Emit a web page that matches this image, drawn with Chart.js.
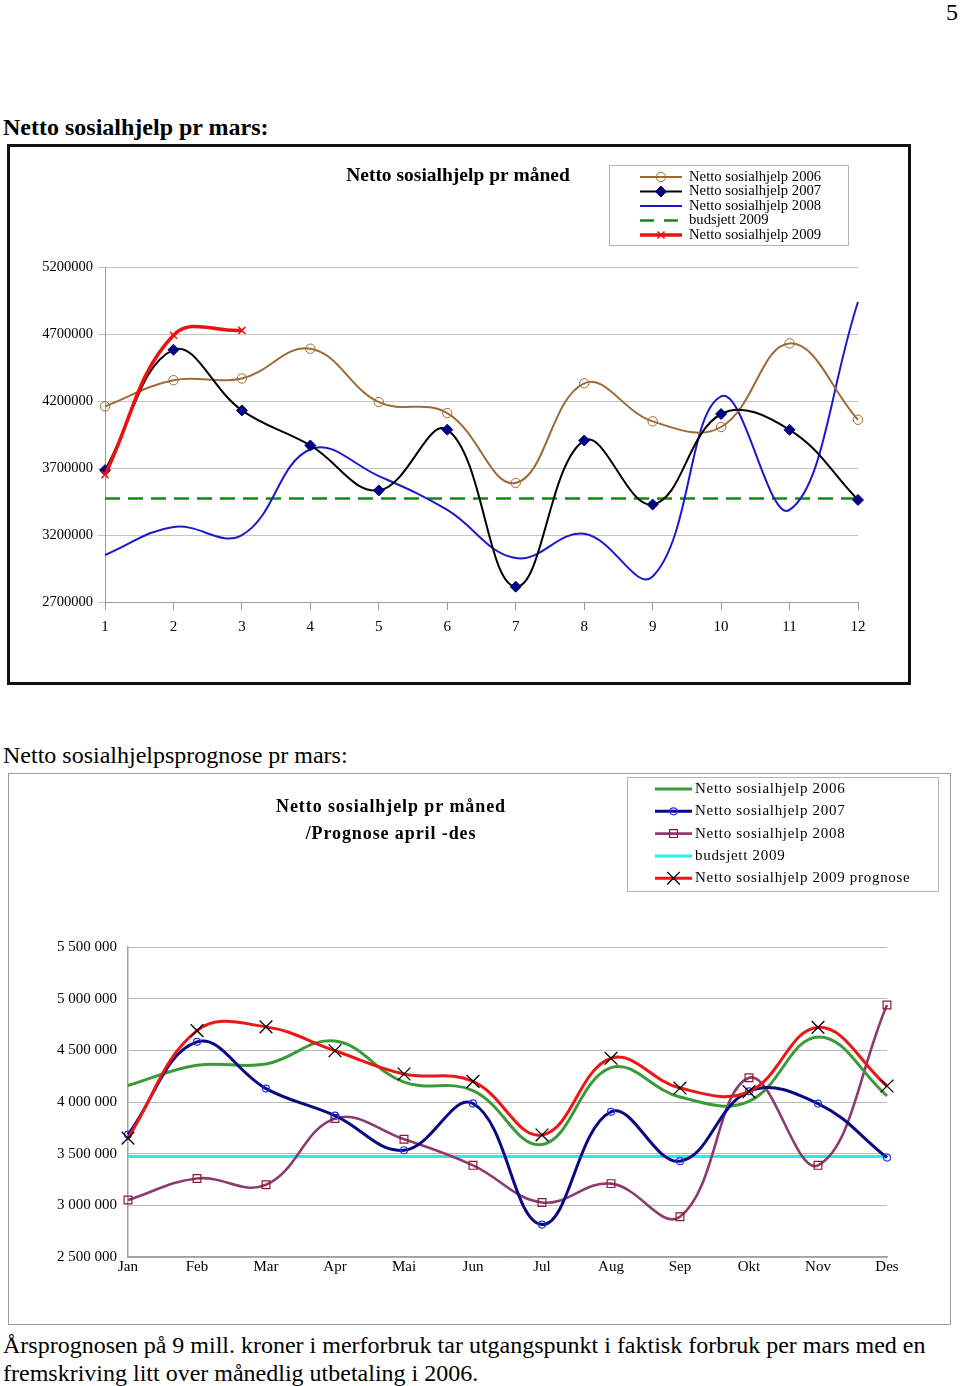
<!DOCTYPE html>
<html lang="no">
<head>
<meta charset="utf-8">
<title>Netto sosialhjelp pr mars</title>
<script src="https://cdn.jsdelivr.net/npm/chart.js@4.4.1/dist/chart.umd.min.js"></script>
<style>
  html, body { margin: 0; padding: 0; background: #fff; }
  body {
    width: 960px; height: 1386px; position: relative; overflow: hidden;
    font-family: "Liberation Serif", "Times New Roman", serif; color: #000;
  }
  .txt { position: absolute; white-space: nowrap; font-size: 24px; line-height: 28px; }
  .box1 { position: absolute; left: 7px; top: 144px; width: 904px; height: 541px;
          border: 3px solid #111; box-sizing: border-box; }
  .box2 { position: absolute; left: 8px; top: 773px; width: 943px; height: 552px;
          border: 1px solid #9a9a9a; box-sizing: border-box; }
  canvas { position: absolute; }
</style>
</head>
<body>

<div class="txt" style="right:2px; top:-2px;">5</div>
<div class="txt" style="left:3px; top:113px; font-weight:bold;">Netto sosialhjelp pr mars:</div>
<div class="box1"></div>
<canvas id="chart1" width="898" height="534" style="left:10px; top:148px;"></canvas>

<div class="txt" style="left:3px; top:741px;">Netto sosialhjelpsprognose pr mars:</div>
<div class="box2"></div>
<canvas id="chart2" width="940" height="550" style="left:9px; top:774px;"></canvas>

<div class="txt" style="left:3px; top:1331px;">Årsprognosen på 9 mill. kroner i merforbruk tar utgangspunkt i faktisk forbruk per mars med en<br>fremskriving litt over månedlig utbetaling i 2006.</div>

<script>
// ---- data (lest av fra figuren) ----
const maanedNr = ["1", "2", "3", "4", "5", "6", "7", "8", "9", "10", "11", "12"];
const maaneder = ["Jan", "Feb", "Mar", "Apr", "Mai", "Jun", "Jul", "Aug", "Sep", "Okt", "Nov", "Des"];

const netto2006 = [4160000, 4355000, 4368000, 4590000, 4192000, 4110000, 3588000, 4332000, 4048000, 4006000, 4630000, 4060000];
const netto2007 = [3684000, 4582000, 4130000, 3868000, 3533000, 3986000, 2814000, 3905000, 3427000, 4103000, 3985000, 3462000];
const netto2008 = [3051000, 3260000, 3199000, 3840000, 3640000, 3387000, 3028000, 3210000, 2890000, 4234000, 3387000, 4939000];
const budsjett2009 = [3472000, 3472000, 3472000, 3472000, 3472000, 3472000, 3472000, 3472000, 3472000, 3472000, 3472000, 3472000];
const netto2009 = [3650000, 4691000, 4727000];
const prognose2009 = [3650000, 4691000, 4727000, 4496000, 4271000, 4200000, 3681000, 4423000, 4135000, 4100000, 4722000, 4155000];

const yTicks1 = { min: 2700000, max: 5200000, step: 500000 };
const yTicks2 = { min: 2500000, max: 5500000, step: 500000 };

const SERIF = "'Liberation Serif', 'Times New Roman', serif";

// ---- hjelpefunksjoner ----
function tegnMarkor(ctx, stil, x, y, r, fyll, kant, bredde) {
  ctx.save();
  ctx.setLineDash([]);
  ctx.lineWidth = bredde;
  ctx.strokeStyle = kant;
  ctx.fillStyle = fyll;
  ctx.beginPath();
  if (stil === "circle") {
    ctx.arc(x, y, r, 0, Math.PI * 2);
    ctx.fill(); ctx.stroke();
  } else if (stil === "rectRot") {
    ctx.moveTo(x, y - r); ctx.lineTo(x + r, y); ctx.lineTo(x, y + r); ctx.lineTo(x - r, y);
    ctx.closePath(); ctx.fill(); ctx.stroke();
  } else if (stil === "rect") {
    const s = r * Math.SQRT1_2;
    ctx.rect(x - s, y - s, 2 * s, 2 * s);
    ctx.fill(); ctx.stroke();
  } else if (stil === "crossRot") {
    const s = r * Math.SQRT1_2;
    ctx.moveTo(x - s, y - s); ctx.lineTo(x + s, y + s);
    ctx.moveTo(x + s, y - s); ctx.lineTo(x - s, y + s);
    ctx.stroke();
  }
  ctx.restore();
}

// tittel + tegnforklaring i boksen øverst
function lagPynt(oppsett) {
  return {
    id: "pynt",
    afterDraw(chart) {
      const ctx = chart.ctx;
      ctx.save();
      ctx.fillStyle = "#000";
      ctx.textBaseline = "middle";

      ctx.textAlign = "center";
      ctx.font = oppsett.tittelFont;
      if ("letterSpacing" in ctx) ctx.letterSpacing = oppsett.tittelSpacing;
      oppsett.tittel.forEach((t, i) => ctx.fillText(t, oppsett.tittelX, oppsett.tittelY + i * oppsett.tittelSteg));

      const b = oppsett.legend;
      ctx.strokeStyle = "#b4b4b4";
      ctx.lineWidth = 1;
      ctx.strokeRect(b.x + 0.5, b.y + 0.5, b.w, b.h);

      ctx.textAlign = "left";
      ctx.font = b.font;
      if ("letterSpacing" in ctx) ctx.letterSpacing = b.spacing;
      chart.data.datasets.forEach((ds, i) => {
        const y = b.radY + i * b.radSteg;
        ctx.beginPath();
        ctx.setLineDash(ds.legendDash || []);
        ctx.strokeStyle = ds.borderColor;
        ctx.lineWidth = ds.borderWidth;
        ctx.moveTo(b.linjeX0, y);
        ctx.lineTo(b.linjeX1, y);
        ctx.stroke();
        ctx.setLineDash([]);
        if (ds.pointRadius > 0) {
          tegnMarkor(ctx, ds.pointStyle, (b.linjeX0 + b.linjeX1) / 2, y, ds.pointRadius,
            ds.pointBackgroundColor, ds.pointBorderColor, ds.pointBorderWidth);
        }
        ctx.fillStyle = "#000";
        ctx.fillText(ds.label, b.tekstX, y);
      });
      ctx.restore();
    }
  };
}

const SPENN = 0.4;

/* -------------------------------------------------------------
   FIGUR 1: Netto sosialhjelp pr måned
-------------------------------------------------------------- */
new Chart(document.getElementById("chart1"), {
  type: "line",
  data: {
    labels: maanedNr,
    datasets: [
      {
        label: "Netto sosialhjelp 2006", data: netto2006, order: 3,
        borderColor: "#9e6b36", borderWidth: 2, tension: SPENN,
        pointStyle: "circle", pointRadius: 4.7, pointBorderWidth: 1,
        pointBorderColor: "#9e6b36", pointBackgroundColor: "rgba(255,255,255,0)"
      },
      {
        label: "Netto sosialhjelp 2007", data: netto2007, order: 2,
        borderColor: "#000000", borderWidth: 2, tension: SPENN,
        pointStyle: "rectRot", pointRadius: 5.5, pointBorderWidth: 1,
        pointBorderColor: "#000080", pointBackgroundColor: "#000080"
      },
      {
        label: "Netto sosialhjelp 2008", data: netto2008, order: 4,
        borderColor: "#1a1acc", borderWidth: 2, tension: SPENN,
        pointRadius: 0
      },
      {
        label: "budsjett 2009", data: budsjett2009, order: 5,
        borderColor: "#138a13", borderWidth: 2.5, borderDash: [15, 8], legendDash: [14, 10],
        tension: 0, pointRadius: 0
      },
      {
        label: "Netto sosialhjelp 2009", data: netto2009, order: 1,
        borderColor: "#ee1111", borderWidth: 3.5, tension: SPENN,
        pointStyle: "crossRot", pointRadius: 5, pointBorderWidth: 1.5,
        pointBorderColor: "#ee1111", pointBackgroundColor: "#ee1111"
      }
    ]
  },
  options: {
    responsive: false,
    animation: false,
    layout: { padding: { left: 0, right: 50, top: 119, bottom: 40 } },
    plugins: { legend: { display: false }, tooltip: { enabled: false } },
    datasets: { line: { clip: 10 } },
    scales: {
      x: {
        offset: false,
        grid: { drawOnChartArea: false, tickLength: 8, color: "#9a9a9a" },
        border: { color: "#9a9a9a" },
        ticks: { font: { family: SERIF, size: 15 }, color: "#000", padding: 8, maxRotation: 0, autoSkip: false },
        afterFit(s) { s.height = 40; }
      },
      y: {
        min: yTicks1.min, max: yTicks1.max,
        ticks: { stepSize: yTicks1.step, font: { family: SERIF, size: 14.5 }, color: "#000", padding: 5,
                 callback: v => String(v) },
        grid: { color: "#c4c4c4", tickLength: 7 },
        border: { color: "#9a9a9a" },
        afterFit(s) { s.width = 95; }
      }
    }
  },
  plugins: [lagPynt({
    tittel: ["Netto sosialhjelp pr måned"],
    tittelFont: "bold 19.5px " + SERIF, tittelSpacing: "0px",
    tittelX: 448, tittelY: 28, tittelSteg: 0,
    legend: {
      x: 599, y: 17, w: 239, h: 80,
      font: "14.7px " + SERIF, spacing: "0px",
      radY: 29, radSteg: 14.5, linjeX0: 630, linjeX1: 672, tekstX: 679
    }
  })]
});

/* -------------------------------------------------------------
   FIGUR 2: Prognose april - des
-------------------------------------------------------------- */
const mellomrom = v => String(v).replace(/\B(?=(\d{3})+(?!\d))/g, " ");

new Chart(document.getElementById("chart2"), {
  type: "line",
  data: {
    labels: maaneder,
    datasets: [
      {
        label: "Netto sosialhjelp 2006", data: netto2006, order: 3,
        borderColor: "#3a9a3a", borderWidth: 3, tension: SPENN, pointRadius: 0
      },
      {
        label: "Netto sosialhjelp 2007", data: netto2007, order: 2,
        borderColor: "#0a0a80", borderWidth: 3, tension: SPENN,
        pointStyle: "circle", pointRadius: 3.5, pointBorderWidth: 1.2,
        pointBorderColor: "#2233ee", pointBackgroundColor: "rgba(255,255,255,0)"
      },
      {
        label: "Netto sosialhjelp 2008", data: netto2008, order: 4,
        borderColor: "#8e3a6e", borderWidth: 2.6, tension: SPENN,
        pointStyle: "rect", pointRadius: 5.5, pointBorderWidth: 1.2,
        pointBorderColor: "#8b1a2a", pointBackgroundColor: "rgba(255,255,255,0)"
      },
      {
        label: "budsjett 2009", data: budsjett2009, order: 5,
        borderColor: "#22eeee", borderWidth: 3, tension: 0, pointRadius: 0
      },
      {
        label: "Netto sosialhjelp 2009 prognose", data: prognose2009, order: 1,
        borderColor: "#ee1515", borderWidth: 3, tension: SPENN,
        pointStyle: "crossRot", pointRadius: 9, pointBorderWidth: 1.3,
        pointBorderColor: "#000", pointBackgroundColor: "#000"
      }
    ]
  },
  options: {
    responsive: false,
    animation: false,
    layout: { padding: { left: 0, right: 62, top: 173, bottom: 37 } },
    plugins: { legend: { display: false }, tooltip: { enabled: false } },
    datasets: { line: { clip: 10 } },
    scales: {
      x: {
        offset: false,
        grid: { drawOnChartArea: false, drawTicks: false },
        border: { color: "#a0a0a0", width: 1.5 },
        ticks: { font: { family: SERIF, size: 15 }, color: "#000", padding: 1, maxRotation: 0, autoSkip: false },
        afterFit(s) { s.height = 30; }
      },
      y: {
        min: yTicks2.min, max: yTicks2.max,
        ticks: { stepSize: yTicks2.step, font: { family: SERIF, size: 15 }, color: "#000", padding: 11,
                 callback: mellomrom },
        grid: { color: "#b8b8b8", drawTicks: false },
        border: { color: "#a0a0a0", width: 1.5 },
        afterFit(s) { s.width = 119; }
      }
    }
  },
  plugins: [lagPynt({
    tittel: ["Netto sosialhjelp pr måned", "/Prognose april -des"],
    tittelFont: "bold 18px " + SERIF, tittelSpacing: "0.9px",
    tittelX: 382, tittelY: 33, tittelSteg: 27,
    legend: {
      x: 618, y: 3, w: 311, h: 114,
      font: "15px " + SERIF, spacing: "0.7px",
      radY: 15, radSteg: 22.3, linjeX0: 646, linjeX1: 683, tekstX: 686
    }
  })]
});
</script>
</body>
</html>
